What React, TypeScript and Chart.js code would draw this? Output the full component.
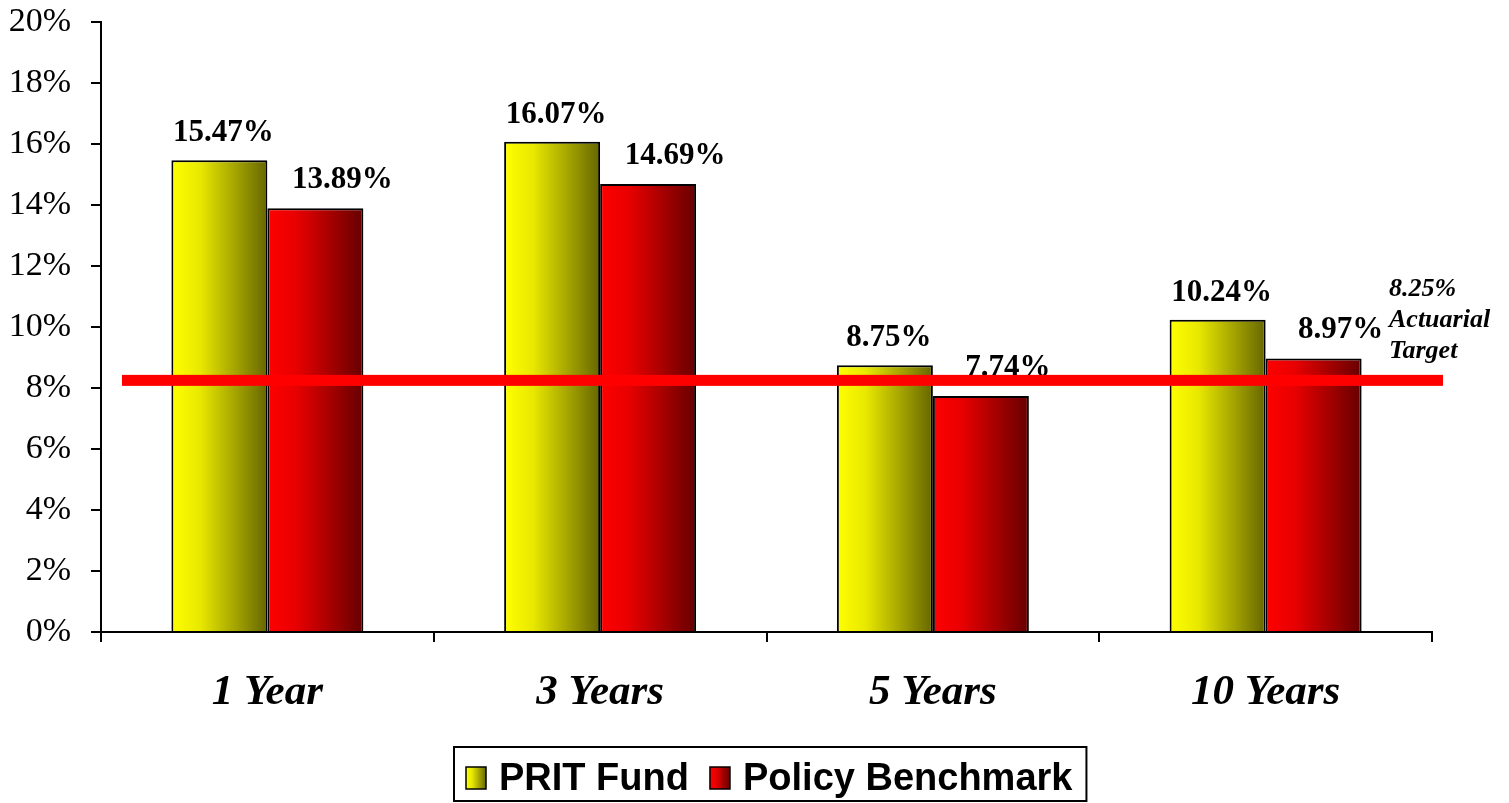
import React, { useEffect, useRef } from "react";
import { Chart, registerables } from "chart.js";

Chart.register(...registerables);

const categories = ["1 Year", "3 Years", "5 Years", "10 Years"];
const seriesNames = ["PRIT Fund", "Policy Benchmark"];
const pritFund = [15.47, 16.07, 8.75, 10.24];
const policyBenchmark = [13.89, 14.69, 7.74, 8.97];
const actuarialTarget = 8.25;
const targetLabel = ["8.25%", "Actuarial", "Target"];
const yMin = 0;
const yMax = 20;
const yStep = 2;

const CAT_PCT = 0.577;
const SERIF = '"Liberation Serif", "Times New Roman", Times, serif';
const SANS = '"Liberation Sans", Arial, Helvetica, sans-serif';

const gradientStops = [
  ["#ffff00", "#e8e800", "#666600"],
  ["#ff0000", "#e80000", "#660000"],
];

function makeGradient(ctx2d: CanvasRenderingContext2D, x0: number, w: number, series: number) {
  const g = ctx2d.createLinearGradient(x0, 0, x0 + w, 0);
  const s = gradientStops[series];
  g.addColorStop(0, s[0]);
  g.addColorStop(0.3, s[1]);
  g.addColorStop(1, s[2]);
  return g;
}

function barFill(series: number) {
  return (c: any) => {
    const chart = c.chart;
    const xs = chart.scales && chart.scales.x;
    if (!chart.chartArea || !xs || c.dataIndex === undefined) return gradientStops[series][1];
    const center = xs.getPixelForValue(c.dataIndex);
    const cat = xs.width / categories.length;
    const bw = (cat * CAT_PCT) / 2;
    const x0 = series === 0 ? center - bw : center;
    return makeGradient(chart.ctx, x0, bw, series);
  };
}

const labelOffsets = [
  { dx: 4, dy: -27 },
  { dx: 27, dy: -28 },
];

const overlayPlugin = {
  id: "overlay",
  afterDatasetsDraw(chart: any) {
    const ctx = chart.ctx as CanvasRenderingContext2D;
    const area = chart.chartArea;
    const ys = chart.scales.y;
    ctx.save();
    // value labels
    ctx.font = `bold 31px ${SERIF}`;
    ctx.fillStyle = "#000";
    ctx.textAlign = "center";
    ctx.textBaseline = "middle";
    chart.data.datasets.forEach((ds: any, di: number) => {
      const meta = chart.getDatasetMeta(di);
      meta.data.forEach((bar: any, i: number) => {
        const v = ds.data[i] as number;
        ctx.fillText(v.toFixed(2) + "%", bar.x + labelOffsets[di].dx, bar.y + labelOffsets[di].dy);
      });
    });
    // actuarial target line
    const yT = ys.getPixelForValue(actuarialTarget);
    const catW = chart.scales.x.width / categories.length;
    const x0 = area.left + catW * 0.063;
    const x1 = area.right + 11;
    ctx.fillStyle = "#ff0000";
    ctx.fillRect(x0, yT - 5.5, x1 - x0, 11);
    // target text
    ctx.fillStyle = "#000";
    ctx.font = `italic bold 26px ${SERIF}`;
    ctx.textAlign = "left";
    ctx.textBaseline = "middle";
    targetLabel.forEach((t, i) => {
      ctx.fillText(t, area.right - 43, yT - 91 + i * 31);
    });
    ctx.restore();
  },
  afterDraw(chart: any) {
    const ctx = chart.ctx as CanvasRenderingContext2D;
    const area = chart.chartArea;
    ctx.save();
    ctx.font = `bold 38px ${SANS}`;
    const boxW = 20, boxH = 22, gapText = 13, gapItem = 21, padL = 12, padR = 14, h = 54;
    const widths = seriesNames.map((n) => ctx.measureText(n).width);
    const content = 2 * (boxW + gapText) + widths[0] + widths[1] + gapItem;
    const total = padL + content + padR;
    const cx = (area.left + area.right) / 2 + 4;
    const left = Math.round(cx - total / 2);
    const top = chart.height - 2 - h;
    ctx.strokeStyle = "#000";
    ctx.lineWidth = 2;
    ctx.strokeRect(left, top, total, h);
    let x = left + padL;
    const baseline = top + 43;
    ctx.textAlign = "left";
    ctx.textBaseline = "alphabetic";
    seriesNames.forEach((name, i) => {
      ctx.fillStyle = makeGradient(ctx, x, boxW, i);
      ctx.fillRect(x, top + 20, boxW, boxH);
      ctx.lineWidth = 1.5;
      ctx.strokeStyle = "#000";
      ctx.strokeRect(x, top + 20, boxW, boxH);
      x += boxW + gapText;
      ctx.fillStyle = "#000";
      ctx.fillText(name, x, baseline);
      x += widths[i] + gapItem;
    });
    ctx.restore();
  },
};

export default function App() {
  const ref = useRef<HTMLCanvasElement>(null);
  useEffect(() => {
    const chart = new Chart(ref.current as HTMLCanvasElement, {
      type: "bar",
      data: {
        labels: categories,
        datasets: [
          {
            label: seriesNames[0],
            data: pritFund,
            backgroundColor: barFill(0) as any,
            borderColor: "#000",
            borderWidth: 2,
            categoryPercentage: CAT_PCT,
            barPercentage: 1,
          },
          {
            label: seriesNames[1],
            data: policyBenchmark,
            backgroundColor: barFill(1) as any,
            borderColor: "#000",
            borderWidth: 2,
            categoryPercentage: CAT_PCT,
            barPercentage: 1,
          },
        ],
      },
      options: {
        responsive: false,
        animation: false,
        devicePixelRatio: 1,
        layout: { padding: { top: 22, right: 77, bottom: 0, left: 0 } },
        plugins: {
          legend: { display: false },
          tooltip: { enabled: false },
        },
        scales: {
          x: {
            offset: true,
            grid: {
              offset: true,
              drawOnChartArea: false,
              drawTicks: true,
              tickLength: 10,
              color: "#000",
              lineWidth: 2,
            },
            border: { display: true, color: "#000", width: 2 },
            ticks: {
              color: "#000",
              padding: 25,
              font: { family: SERIF, size: 43, style: "italic", weight: "bold" },
            },
            afterFit: (s: any) => {
              s.height = 171;
              s.paddingLeft = 0;
              s.paddingRight = 0;
            },
          },
          y: {
            min: yMin,
            max: yMax,
            grid: {
              drawOnChartArea: false,
              drawTicks: true,
              tickLength: 10,
              color: "#000",
              lineWidth: 2,
            },
            border: { display: true, color: "#000", width: 2 },
            ticks: {
              stepSize: yStep,
              color: "#000",
              padding: 20,
              font: { family: SERIF, size: 34 },
              callback: (v: any) => `${v}%`,
            },
            afterFit: (s: any) => {
              s.width = 101;
              s.paddingTop = 0;
              s.paddingBottom = 0;
            },
          },
        },
      },
      plugins: [overlayPlugin],
    });
    return () => chart.destroy();
  }, []);
  return (
    <div style={{ position: "fixed", left: 0, top: 0, width: 1509, height: 803, background: "#fff" }}>
      <canvas ref={ref} width={1509} height={803} style={{ display: "block", width: 1509, height: 803 }} />
    </div>
  );
}
